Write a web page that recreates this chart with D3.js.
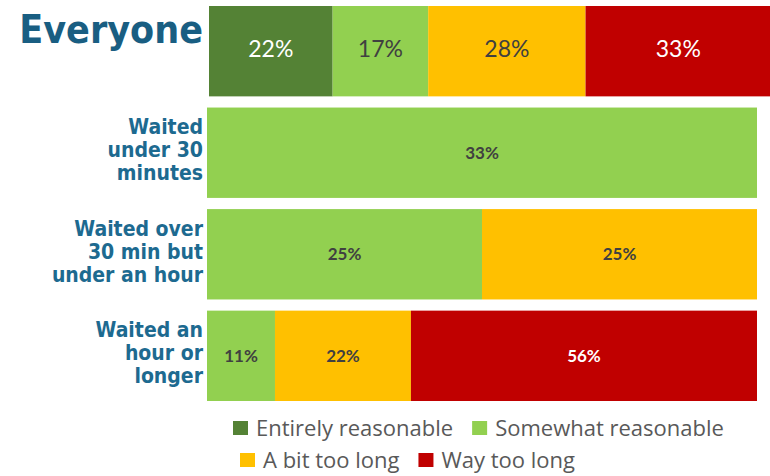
<!DOCTYPE html>
<html><head><meta charset="utf-8">
<script src="https://cdn.jsdelivr.net/npm/d3@7"></script>
<style>body{margin:0;background:#fff} svg{display:block}</style>
</head><body><svg id="c" width="770" height="476"></svg>
<script>
const categories = ["Everyone", "Waited under 30 minutes", "Waited over 30 min but under an hour", "Waited an hour or longer"];
const categoryLines = [["Everyone"], ["Waited", "under 30", "minutes"], ["Waited over", "30 min but", "under an hour"], ["Waited an", "hour or", "longer"]];
const seriesNames = ["Entirely reasonable", "Somewhat reasonable", "A bit too long", "Way too long"];
const entirelyReasonable = [22, 0, 0, 0];
const somewhatReasonable = [17, 33, 25, 11];
const aBitTooLong = [28, 0, 25, 22];
const wayTooLong = [33, 0, 0, 56];
const seriesColors = ["#548235", "#92D050", "#FFC000", "#C00000"];
const labelColors = ["#ffffff", "#404040", "#404040", "#ffffff"];

const seriesValues = [entirelyReasonable, somewhatReasonable, aBitTooLong, wayTooLong];
const table = categories.map((c, i) => {
  const o = {category: c};
  seriesNames.forEach((s, j) => o[s] = seriesValues[j][i]);
  return o;
});
const stacked = d3.stack().keys(seriesNames).offset(d3.stackOffsetExpand)(table);

const svg = d3.select("#c");
const y = d3.scaleBand().domain(categories).range([6, 401]).paddingInner(0.11);
const xTop = d3.scaleLinear().domain([0, 1]).range([209, 771]);
const xRest = d3.scaleLinear().domain([0, 1]).range([207, 757]);
const xFor = cat => cat === categories[0] ? xTop : xRest;

const layers = svg.append("g").selectAll("g").data(stacked).join("g")
  .attr("fill", (d, i) => seriesColors[i]);
layers.selectAll("rect").data(d => d.map(p => ({p, cat: p.data.category}))).join("rect")
  .filter(d => d.p[1] - d.p[0] > 0)
  .attr("x", d => xFor(d.cat)(d.p[0]))
  .attr("width", d => xFor(d.cat)(d.p[1]) - xFor(d.cat)(d.p[0]))
  .attr("y", d => y(d.cat))
  .attr("height", y.bandwidth());

// value labels
stacked.forEach((layer, si) => {
  layer.forEach((p, ci) => {
    const v = seriesValues[si][ci];
    if (!v) return;
    const cat = categories[ci];
    const x = xFor(cat);
    const top = ci === 0;
    svg.append("text")
      .attr("x", (x(p[0]) + x(p[1])) / 2)
      .attr("y", y(cat) + y.bandwidth() / 2 - (top ? 2 : 0))
      .attr("dy", "0.36em")
      .attr("text-anchor", "middle")
      .attr("font-family", "Lato, sans-serif")
      .attr("font-size", top ? 23 : 17)
      .attr("font-weight", top ? 400 : 700)
      .attr("fill", labelColors[si])
      .text(v + "%");
  });
});

// category labels
categories.forEach((cat, ci) => {
  const lines = categoryLines[ci];
  const cy = y(cat) + y.bandwidth() / 2;
  const isTitle = ci === 0;
  const fs = isTitle ? 39 : 21;
  const lh = isTitle ? 39 : 23;
  const t = svg.append("text")
    .attr("text-anchor", "end")
    .attr("font-family", "'DejaVu Sans Condensed', 'DejaVu Sans', sans-serif")
    .attr("font-weight", "bold")
    .attr("font-size", fs)
    .attr("fill", isTitle ? "#195E82" : "#1D6A90");
  lines.forEach((ln, k) => {
    t.append("tspan")
      .attr("x", 203)
      .attr("y", isTitle ? 43 : cy - 3 + (k - (lines.length - 1) / 2) * lh)
      .attr("dy", isTitle ? 0 : "0.36em")
      .text(ln);
  });
});

// legend
const legendRows = [[0, 1], [2, 3]];
const legendStart = [233, 240];
const legendBase = [436, 468];
const legend = svg.append("g").attr("font-family", "'Open Sans', sans-serif").attr("font-size", 22).attr("fill", "#595959");
legendRows.forEach((row, r) => {
  let cx = legendStart[r];
  row.forEach(si => {
    legend.append("rect").attr("x", cx).attr("y", legendBase[r] - 15).attr("width", 15).attr("height", 14).attr("fill", seriesColors[si]);
    const tx = legend.append("text").attr("x", cx + 23).attr("y", legendBase[r]).text(seriesNames[si]);
    cx += 23 + tx.node().getComputedTextLength() + 19;
  });
});
</script>
</body></html>
